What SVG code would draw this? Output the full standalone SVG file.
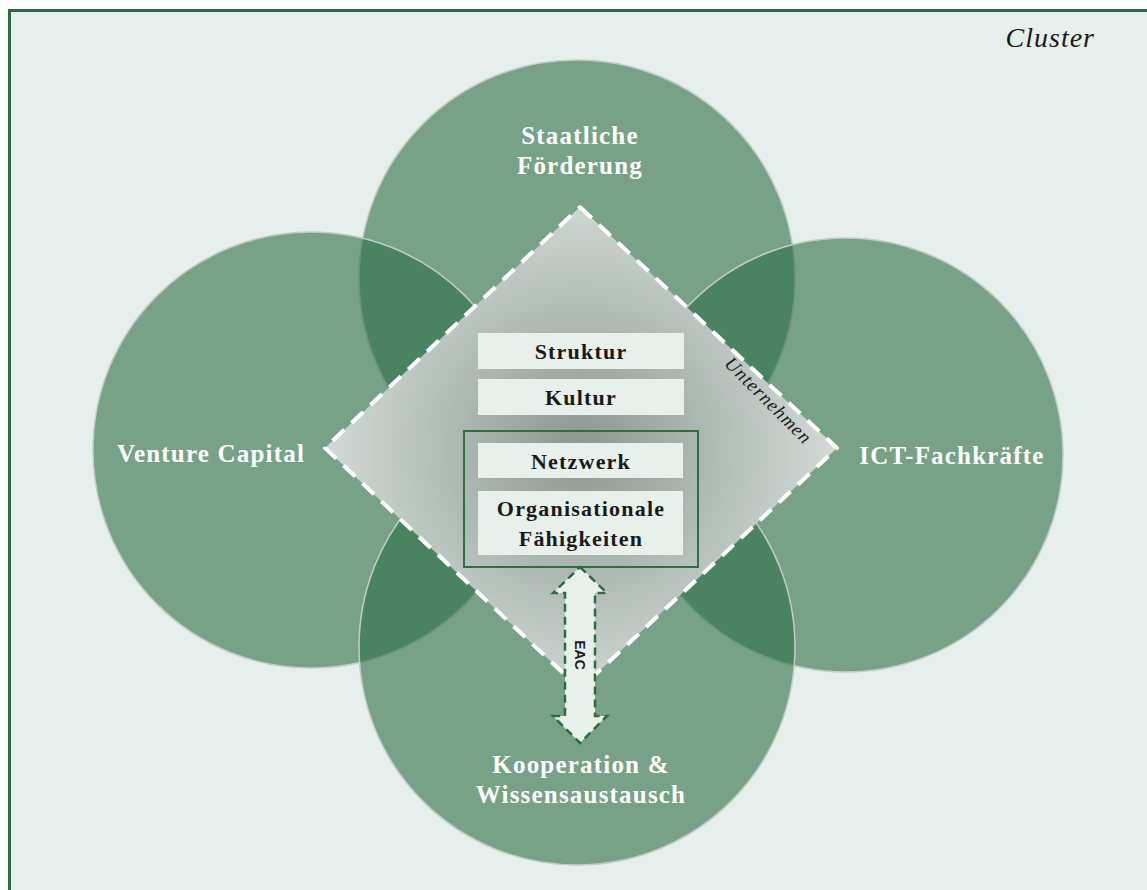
<svg xmlns="http://www.w3.org/2000/svg" width="1147" height="890" viewBox="0 0 1147 890">
  <defs>
    <radialGradient id="coreGrad" cx="580" cy="448" r="260" gradientUnits="userSpaceOnUse">
      <stop offset="0" stop-color="#8d9792"/>
      <stop offset="0.55" stop-color="#b3bdb8"/>
      <stop offset="1" stop-color="#d3dcd8"/>
    </radialGradient>
    <style>
      .field { fill: #2d6e45; fill-opacity: 0.6; stroke: #c4ccc8; stroke-width: 1.5; }
      .lbl { font-family: "Liberation Serif", "DejaVu Serif", serif; font-weight: bold; font-size: 25px; letter-spacing: 1.2px; fill: #ffffff; text-anchor: middle; }
      .box { fill: #e8f0ec; }
      .boxtxt { font-family: "Liberation Serif", "DejaVu Serif", serif; font-weight: bold; font-size: 22px; letter-spacing: 1.2px; fill: #1a1a1a; text-anchor: middle; }
      .ital { font-family: "Liberation Serif", "DejaVu Serif", serif; font-style: italic; fill: #1a1a1a; }
    </style>
  </defs>

  <!-- page and cluster frame -->
  <rect x="0" y="0" width="1147" height="890" fill="#ffffff"/>
  <rect x="9.5" y="10.5" width="1150" height="900" fill="#e6efeb" stroke="#2e6b45" stroke-width="3"/>
  <text class="ital" x="1095" y="47" font-size="28" letter-spacing="1" text-anchor="end">Cluster</text>

  <!-- surrounding factor circles -->
  <g id="staatliche-foerderung">
    <circle class="field" cx="577" cy="278" r="218"/>
  </g>
  <g id="venture-capital">
    <circle class="field" cx="311" cy="450" r="218"/>
  </g>
  <g id="ict-fachkraefte">
    <circle class="field" cx="846" cy="455" r="217"/>
  </g>
  <g id="kooperation">
    <circle class="field" cx="577" cy="647" r="218"/>
  </g>

  <!-- circle labels -->
  <text class="lbl" x="580" y="144">Staatliche</text>
  <text class="lbl" x="580" y="174">Förderung</text>
  <text class="lbl" x="211" y="462">Venture Capital</text>
  <text class="lbl" x="952" y="464">ICT-Fachkräfte</text>
  <text class="lbl" x="581" y="773">Kooperation &amp;</text>
  <text class="lbl" x="581" y="803">Wissensaustausch</text>

  <!-- company core -->
  <g id="unternehmen">
    <polygon points="580,207 837,448 580,689 325,448" fill="url(#coreGrad)" stroke="#ffffff" stroke-width="4" stroke-dasharray="16 10" stroke-linejoin="round"/>
    <text class="ital" font-size="19" letter-spacing="1" text-anchor="middle" transform="translate(764,405) rotate(45)">Unternehmen</text>
  </g>

  <g id="struktur">
    <rect class="box" x="478" y="333" width="206" height="36"/>
    <text class="boxtxt" x="581" y="359">Struktur</text>
  </g>
  <g id="kultur">
    <rect class="box" x="478" y="379" width="206" height="36"/>
    <text class="boxtxt" x="581" y="405">Kultur</text>
  </g>
  <g id="ressourcen">
    <rect x="464" y="431" width="234" height="136" fill="none" stroke="#2f6f42" stroke-width="2"/>
  </g>
  <g id="netzwerk">
    <rect class="box" x="478" y="443" width="205" height="35"/>
    <text class="boxtxt" x="581" y="469">Netzwerk</text>
  </g>
  <g id="organisationale-faehigkeiten">
    <rect class="box" x="478" y="491" width="205" height="64"/>
    <text class="boxtxt" x="581" y="516">Organisationale</text>
    <text class="boxtxt" x="581" y="546">Fähigkeiten</text>
  </g>

  <!-- EAC exchange link -->
  <g id="connectors">
    <path d="M580,567 L607,593 L595,593 L595,716 L607,716 L580,743 L553,716 L565,716 L565,593 L553,593 Z" fill="#e8f0ec" stroke="#2e6b3f" stroke-width="2.5" stroke-dasharray="8 5"/>
    <text x="0" y="0" font-family="Liberation Sans, Arial, sans-serif" font-weight="bold" font-size="14" fill="#1a1a1a" text-anchor="middle" transform="translate(575,655) rotate(90)">EAC</text>
  </g>
</svg>
